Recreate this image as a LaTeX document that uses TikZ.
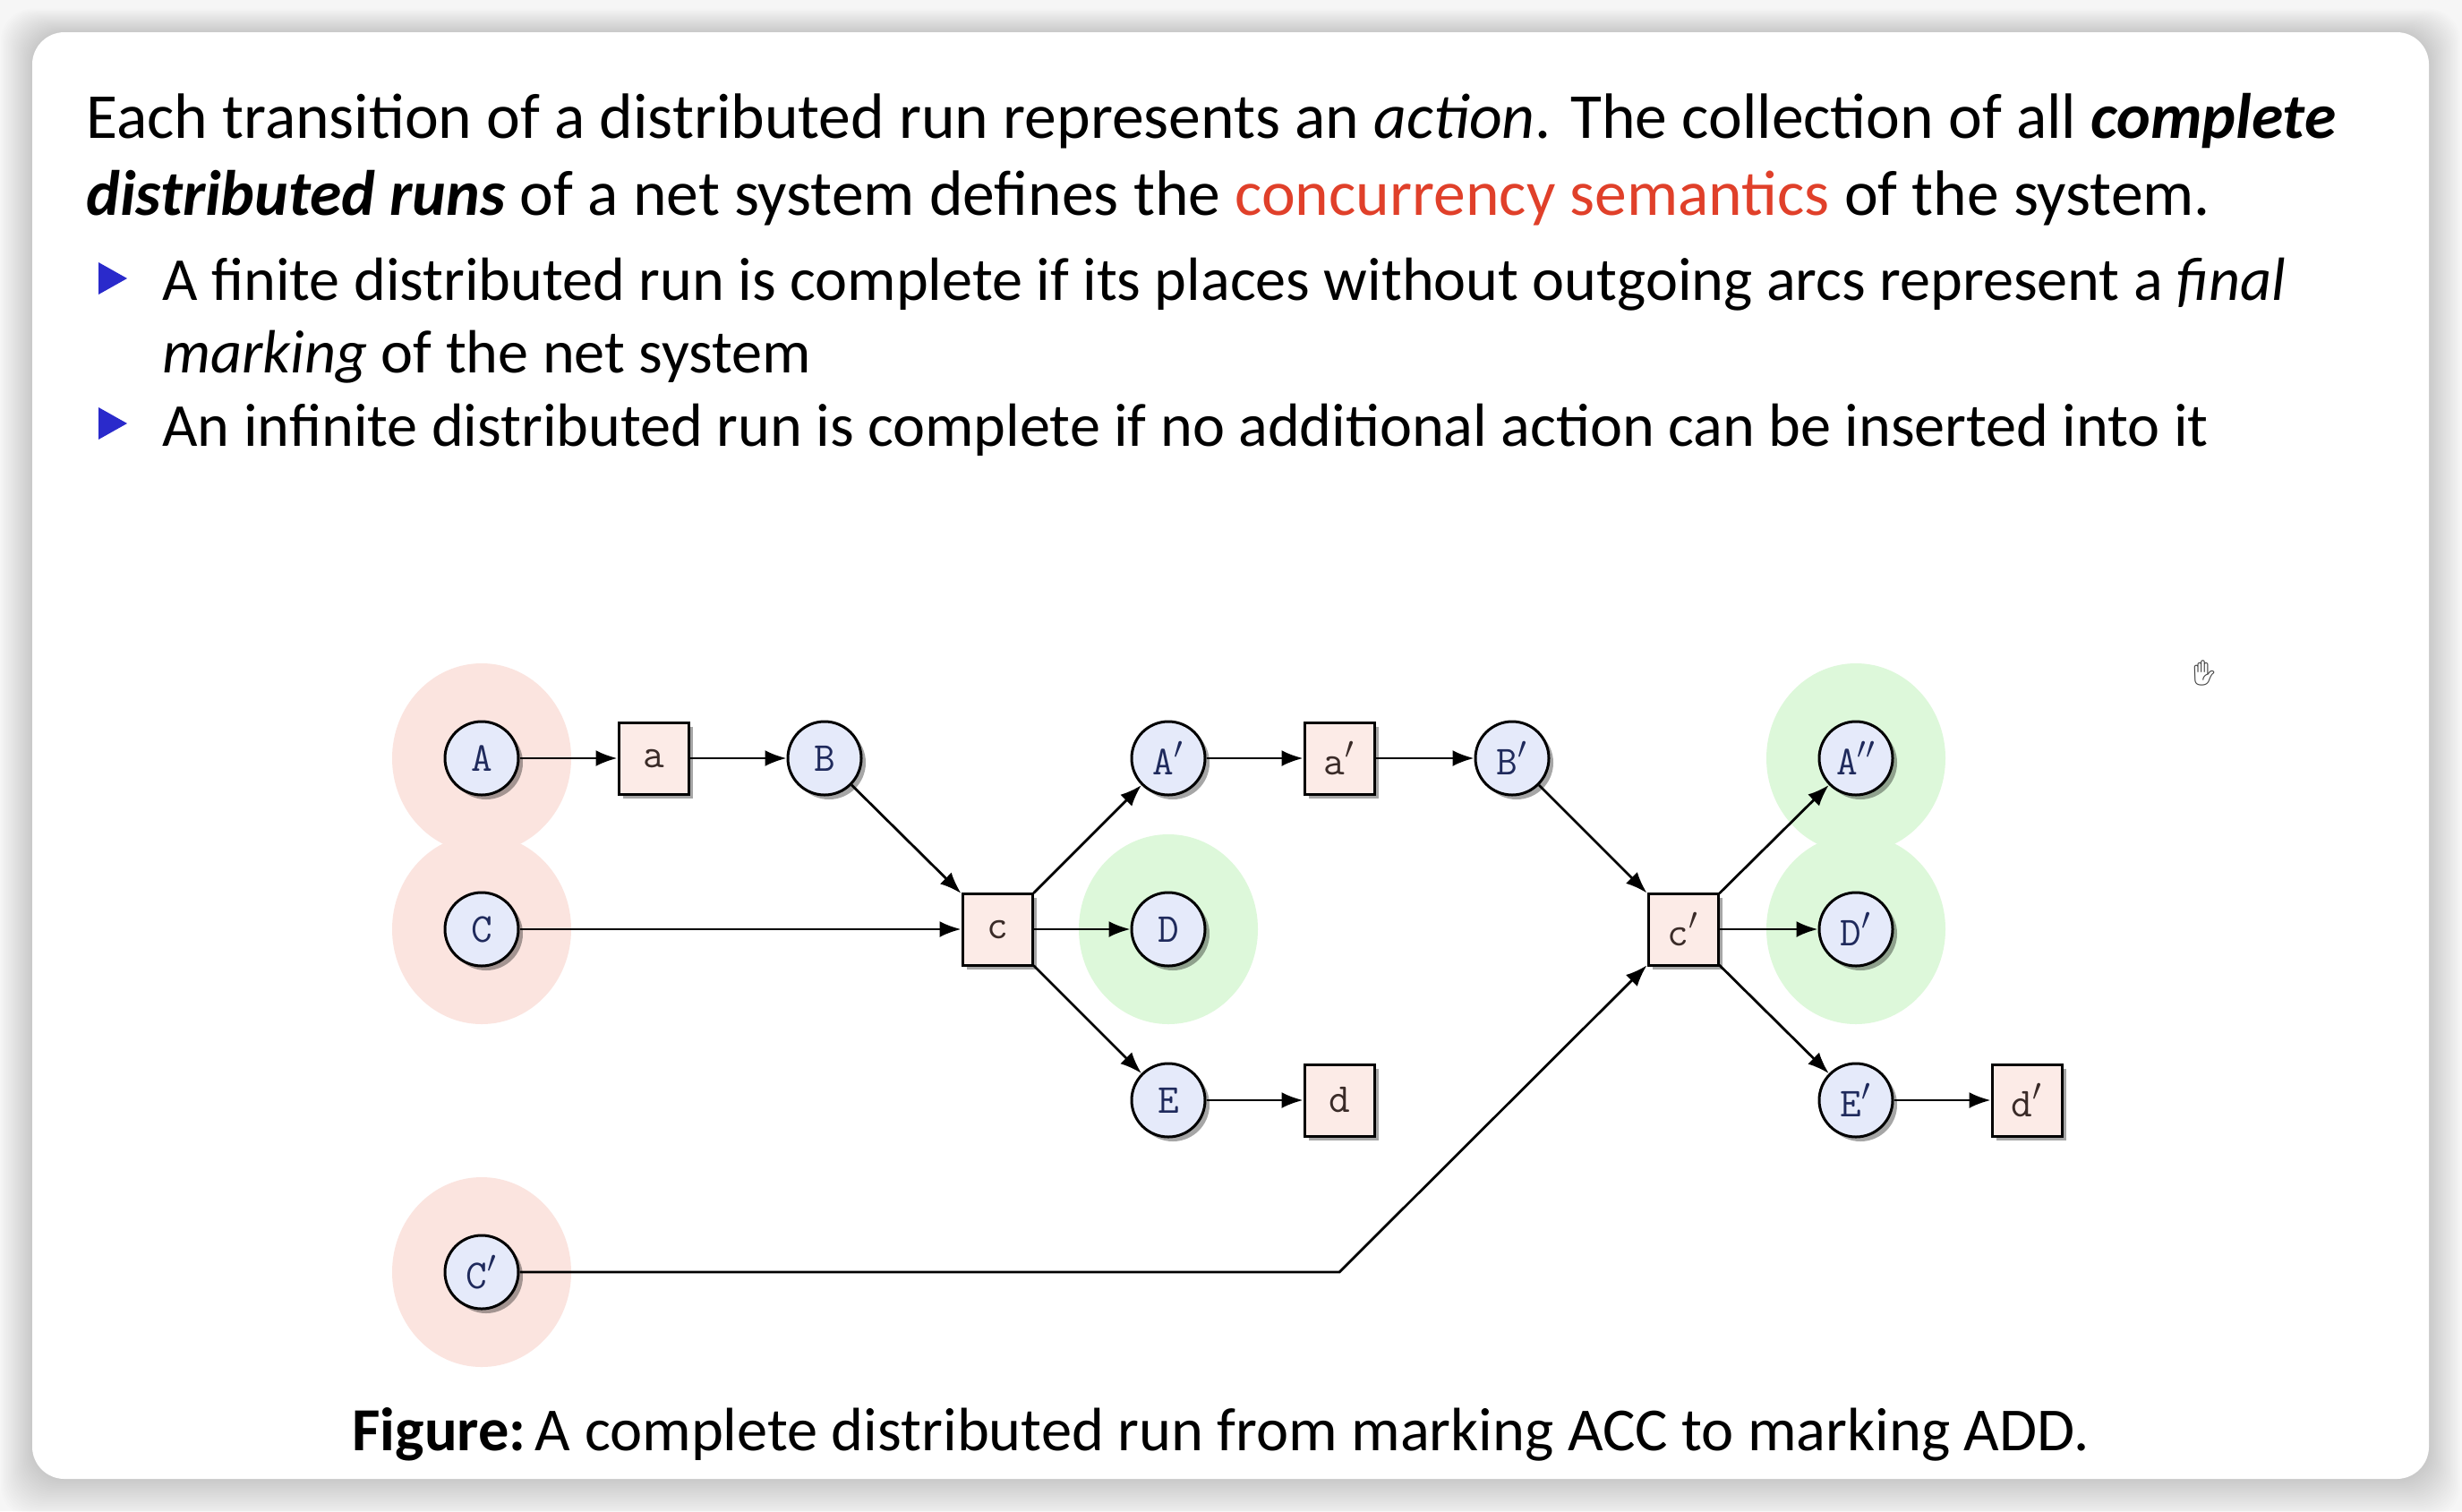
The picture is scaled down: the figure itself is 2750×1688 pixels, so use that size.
\documentclass[tikz,border=0pt]{standalone}
\usepackage{fontspec}
\usepackage{graphicx}
\setmainfont{Carlito}
\newfontfamily\emojifont{Noto Emoji}
\usetikzlibrary{shadows,arrows.meta}
\definecolor{outerbg}{HTML}{F6F6F6}
\definecolor{placefill}{HTML}{E5EAFA}
\definecolor{transfill}{HTML}{FCEBE7}
\definecolor{pinkblob}{HTML}{FBE4DF}
\definecolor{greenblob}{HTML}{DDF8DA}
\definecolor{placetext}{HTML}{1F2A5C}
\definecolor{transtext}{HTML}{3A2B28}
\definecolor{redtext}{HTML}{E0402A}
\definecolor{bulletblue}{HTML}{2A2ACB}
\begin{document}
\begin{tikzpicture}[x=0.5pt,y=-0.5pt,
  txt/.style={inner sep=0pt, anchor=base west},
  paratxt/.style={txt, font=\fontsize{35.8}{40}\selectfont},
  bultxt/.style={txt, font=\fontsize{34.1}{40}\selectfont},
  captxt/.style={txt, font=\fontsize{34.2}{40}\selectfont},
  nodeshadow/.style={drop shadow={shadow xshift=2.5pt, shadow yshift=-2.5pt, fill=black, opacity=0.35}},
  place/.style={circle, draw, line width=1.5pt, fill=placefill, minimum size=41pt, inner sep=0pt,
    text=placetext, font=\fontsize{23}{24}\ttfamily, nodeshadow},
  trans/.style={rectangle, draw, line width=1.5pt, fill=transfill, minimum width=39pt, minimum height=40pt, inner sep=0pt,
    text=transtext, font=\fontsize{23}{24}\ttfamily, nodeshadow},
  arr/.style={line width=1.4pt, -{Latex[length=12pt,width=9pt]}},
  blob/.style={x radius=100, y radius=106}
]
\useasboundingbox (0,0) rectangle (2750,1688);
% slide background and card
\fill[outerbg] (0,0) rectangle (2750,1688);
\foreach \i in {1,...,22} {
  \fill[black, opacity=0.009, rounded corners=18pt] (36-1.6*\i,36-1.2*\i) rectangle (2713+1.6*\i,1652+2.0*\i);
}
\fill[white, rounded corners=18pt] (36,36) rectangle (2713,1652);

% text
\node[paratxt] (l1) at (96,154) {Each transition of a distributed run represents an \textit{action}. The collection of all \textbf{\textit{complete}}};
\node[paratxt] (l2) at (96,240) {\textbf{\textit{distributed runs}} of a net system defines the \textcolor{redtext}{concurrency semantics} of the system.};
\fill[bulletblue] (110,293) -- (142,311) -- (110,329) -- cycle;
\node[bultxt] (l3) at (181,335) {A finite distributed run is complete if its places without outgoing arcs represent a \textit{final}};
\node[bultxt] (l4) at (181,416) {\textit{marking} of the net system};
\fill[bulletblue] (110,455) -- (142,473) -- (110,491) -- cycle;
\node[bultxt] (l5) at (181,498) {An infinite distributed run is complete if no additional action can be inserted into it};
\node[captxt] (cap) at (393,1620) {\textbf{Figure:}\hspace{-0.15em} A complete distributed run from marking ACC to marking ADD.};

% cursor
\node[inner sep=0pt, text=black!75, font=\emojifont\fontsize{14}{14}\selectfont] (hand) at (2462,752) {✋};

% positions
\coordinate (pA)   at (538,847);
\coordinate (pa)   at (730,847);
\coordinate (pB)   at (921,847);
\coordinate (pAp)  at (1305,847);
\coordinate (pap)  at (1496,847);
\coordinate (pBp)  at (1689,847);
\coordinate (pApp) at (2073,847);
\coordinate (pC)   at (538,1038);
\coordinate (pc)   at (1114,1038);
\coordinate (pD)   at (1305,1038);
\coordinate (pcp)  at (1880,1038);
\coordinate (pDp)  at (2073,1038);
\coordinate (pE)   at (1305,1229);
\coordinate (pd)   at (1496,1229);
\coordinate (pEp)  at (2073,1229);
\coordinate (pdp)  at (2264,1229);
\coordinate (pCp)  at (538,1421);
\coordinate (bend) at (1496,1421);

% markings
\fill[pinkblob] (pA) circle [blob];
\fill[pinkblob] (pC) circle [blob];
\fill[pinkblob] (pCp) circle [blob];
\fill[greenblob] (pD) circle [blob];
\fill[greenblob] (pApp) circle [blob];
\fill[greenblob] (pDp) circle [blob];

% nodes
\node[place] (A)   at (pA)   {A};
\node[trans] (a)   at (pa)   {a};
\node[place] (B)   at (pB)   {B};
\node[place] (Ap)  at (pAp)  {A$'$};
\node[trans] (ap)  at (pap)  {a$'$};
\node[place] (Bp)  at (pBp)  {B$'$};
\node[place] (App) at (pApp) {A$''$};
\node[place] (C)   at (pC)   {C};
\node[trans] (c)   at (pc)   {c};
\node[place] (D)   at (pD)   {D};
\node[trans] (cp)  at (pcp)  {c$'$};
\node[place] (Dp)  at (pDp)  {D$'$};
\node[place] (E)   at (pE)   {E};
\node[trans] (d)   at (pd)   {d};
\node[place] (Ep)  at (pEp)  {E$'$};
\node[trans] (dp)  at (pdp)  {d$'$};
\node[place] (Cp)  at (pCp)  {C$'$};

% arcs
\draw[arr] (A) -- (a);
\draw[arr] (a) -- (B);
\draw[arr] (B) -- (c);
\draw[arr] (C) -- (c);
\draw[arr] (c) -- (Ap);
\draw[arr] (c) -- (D);
\draw[arr] (c) -- (E);
\draw[arr] (E) -- (d);
\draw[arr] (Ap) -- (ap);
\draw[arr] (ap) -- (Bp);
\draw[arr] (Bp) -- (cp);
\draw[arr] (cp) -- (App);
\draw[arr] (cp) -- (Dp);
\draw[arr] (cp) -- (Ep);
\draw[arr] (Ep) -- (dp);
\draw[arr] (Cp) -- (bend) -- (cp);
\end{tikzpicture}
\end{document}
